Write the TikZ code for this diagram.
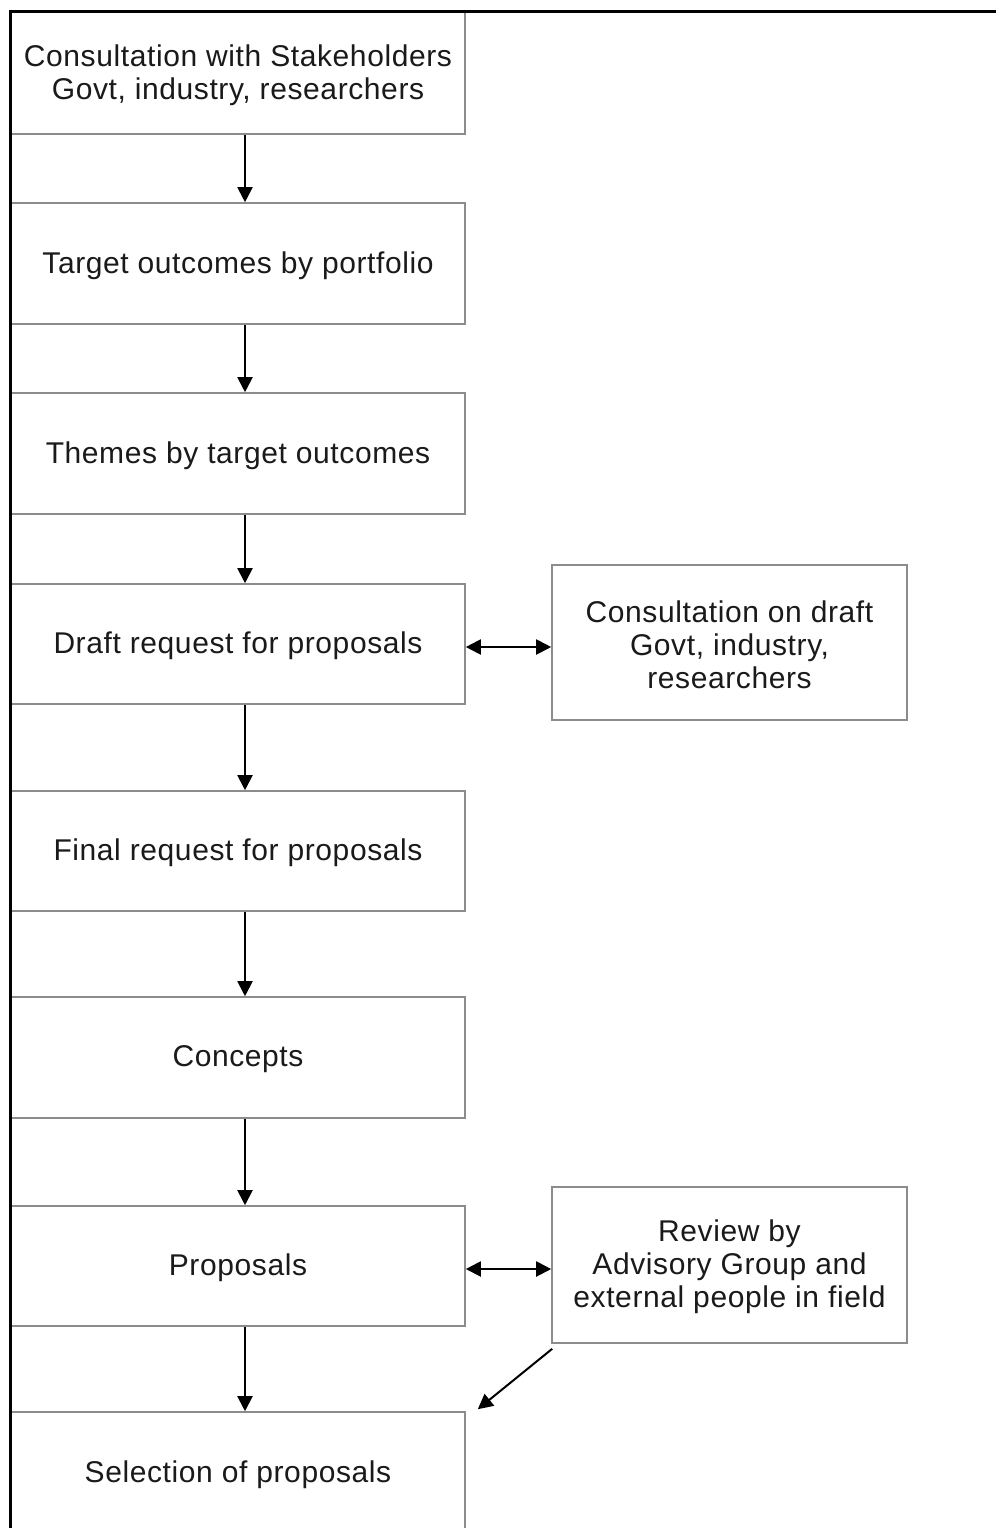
\documentclass[tikz,border=0pt]{standalone}
\usepackage{fontspec}
\setmainfont{Liberation Sans}[LetterSpace=2]
\usetikzlibrary{arrows.meta}
\definecolor{boxgray}{HTML}{8C8C8C}
\definecolor{txt}{HTML}{1A1A1A}
\begin{document}
\begin{tikzpicture}[x=1pt,y=-1pt,
  lbox/.style={draw=boxgray,line width=1.6pt,fill=white,inner sep=0pt,
    minimum width=454pt,align=center,text=txt,font=\fontsize{30}{33}\selectfont},
  rbox/.style={lbox,minimum width=355pt},
  ttext/.style={text=txt,align=center,inner sep=0pt,font=\fontsize{30}{33}\selectfont},
  flow/.style={line width=2pt,-{Triangle[width=15pt,length=15pt]}},
  both/.style={line width=2pt,{Triangle[width=15pt,length=15pt]}-{Triangle[width=15pt,length=15pt]}}]
\useasboundingbox (0,0) rectangle (996,1528);
\clip (0,0) rectangle (996,1528);
\fill[white] (0,0) rectangle (996,1528);
\node[lbox,minimum height=122pt] (b1) at (238,73) {};
\node[lbox,minimum height=121pt] (b2) at (238,263.5) {};
\node[lbox,minimum height=121pt] (b3) at (238,453.5) {};
\node[lbox,minimum height=120pt] (b4) at (238,644) {};
\node[lbox,minimum height=120pt] (b5) at (238,851) {};
\node[lbox,minimum height=121pt] (b6) at (238,1057.5) {};
\node[lbox,minimum height=120pt] (b7) at (238,1266) {};
\node[lbox,minimum height=122pt] (b8) at (238,1473) {};
\node[rbox,minimum height=155pt] (ra) at (729.5,642.5) {};
\node[rbox,minimum height=156pt] (rb) at (729.5,1265) {};
\node[ttext] (t1) at ([yshift=-2pt]b1.center) {Consultation with Stakeholders\\Govt, industry, researchers};
\node[ttext] (t2) at ([yshift=-2pt]b2.center) {Target outcomes by portfolio};
\node[ttext] (t3) at ([yshift=-2pt]b3.center) {Themes by target outcomes};
\node[ttext] (t4) at ([yshift=-2pt]b4.center) {Draft request for proposals};
\node[ttext] (t5) at ([yshift=-2pt]b5.center) {Final request for proposals};
\node[ttext] (t6) at ([yshift=-2pt]b6.center) {Concepts};
\node[ttext] (t7) at ([yshift=-2pt]b7.center) {Proposals};
\node[ttext] (t8) at ([yshift=-2pt]b8.center) {Selection of proposals};
\node[ttext] (ta) at ([yshift=-2pt]ra.center) {Consultation on draft\\Govt, industry,\\researchers};
\node[ttext] (tb) at ([yshift=-2pt]rb.center) {Review by\\Advisory Group and\\external people in field};
\foreach \a/\b in {b1/b2,b2/b3,b3/b4,b4/b5,b5/b6,b6/b7,b7/b8}
  \draw[flow] ([xshift=7pt]\a.south) -- ([xshift=7pt]\b.north);
\draw[both] ([yshift=-3pt]b4.east) -- ([yshift=-3pt]b4.east -| ra.west);
\draw[both] ([yshift=-3pt]b7.east) -- ([yshift=-3pt]b7.east -| rb.west);
\coordinate (dEnd) at ([xshift=12pt,yshift=2pt]b8.north east);
\draw[flow] ([xshift=1pt,yshift=-5pt]rb.south west) -- (dEnd);
\draw[line width=3pt,black] (10,1528) -- (10,12) -- (996,12);
\end{tikzpicture}
\end{document}
